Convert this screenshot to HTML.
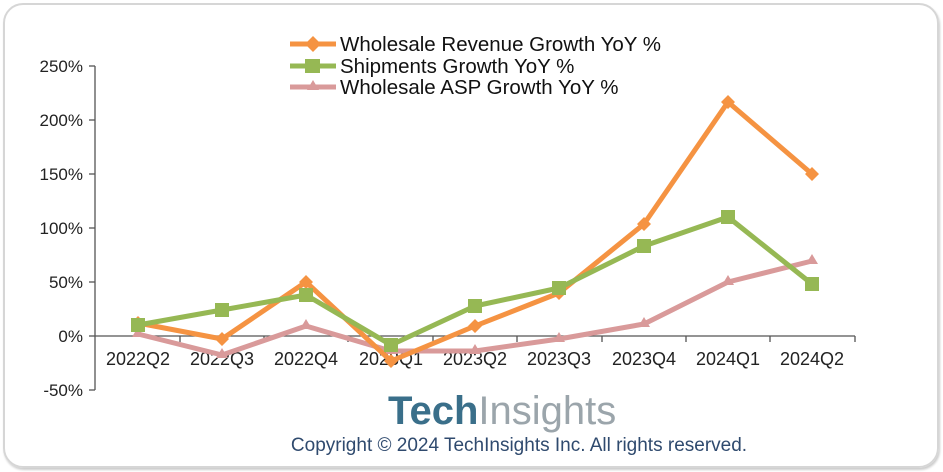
<!DOCTYPE html>
<html><head><style>
body{margin:0;background:#fff;}
.frame{position:absolute;left:3px;top:3px;width:932px;height:461px;border:2px solid #d6d6d6;border-radius:20px;box-shadow:1px 2px 2px #ccc;}
</style></head><body>
<div class="frame"></div>
<svg width="943" height="472" style="position:absolute;left:0;top:0" font-family="Liberation Sans, sans-serif">
<g stroke="#555" stroke-width="1.3" fill="none">
<line x1="95" y1="66" x2="95" y2="390"/>
<line x1="95" y1="336" x2="855" y2="336"/>
<line x1="89" y1="66" x2="95" y2="66"/><line x1="89" y1="120" x2="95" y2="120"/><line x1="89" y1="174" x2="95" y2="174"/><line x1="89" y1="228" x2="95" y2="228"/><line x1="89" y1="282" x2="95" y2="282"/><line x1="89" y1="336" x2="95" y2="336"/><line x1="89" y1="390" x2="95" y2="390"/>
<line x1="180" y1="336" x2="180" y2="342"/><line x1="264" y1="336" x2="264" y2="342"/><line x1="348" y1="336" x2="348" y2="342"/><line x1="433" y1="336" x2="433" y2="342"/><line x1="517" y1="336" x2="517" y2="342"/><line x1="602" y1="336" x2="602" y2="342"/><line x1="686" y1="336" x2="686" y2="342"/><line x1="770" y1="336" x2="770" y2="342"/><line x1="855" y1="336" x2="855" y2="342"/>
</g>
<g font-size="17" fill="#222" text-anchor="end">
<text x="83" y="72">250%</text><text x="83" y="126">200%</text><text x="83" y="180">150%</text><text x="83" y="234">100%</text><text x="83" y="288">50%</text><text x="83" y="342">0%</text><text x="83" y="396">-50%</text>
</g>
<g font-size="18" fill="#222" text-anchor="middle">
<text x="138" y="365">2022Q2</text><text x="222" y="365">2022Q3</text><text x="306" y="365">2022Q4</text><text x="391" y="365">2023Q1</text><text x="475" y="365">2023Q2</text><text x="559" y="365">2023Q3</text><text x="644" y="365">2023Q4</text><text x="728" y="365">2024Q1</text><text x="812" y="365">2024Q2</text>
</g>
<polyline fill="none" stroke="#d99a9a" stroke-width="5" stroke-linejoin="round" points="138,334 222,355 306,326 391,351 475,351 559,339 644,324 728,282 812,261"/>
<g fill="#d99a9a"><path d="M138,327 l6,10 h-12z M222,348 l6,10 h-12z M306,319 l6,10 h-12z M391,344 l6,10 h-12z M475,344 l6,10 h-12z M559,332 l6,10 h-12z M644,317 l6,10 h-12z M728,275 l6,10 h-12z M812,254 l6,10 h-12z"/></g>
<polyline fill="none" stroke="#f59342" stroke-width="5" stroke-linejoin="round" points="138,323 222,339 306,282 391,361 475,326 559,293 644,224 728,102 812,174"/>
<g fill="#f59342"><path d="M138,316 l7,7 -7,7 -7,-7z M222,332 l7,7 -7,7 -7,-7z M306,275 l7,7 -7,7 -7,-7z M391,354 l7,7 -7,7 -7,-7z M475,319 l7,7 -7,7 -7,-7z M559,286 l7,7 -7,7 -7,-7z M644,217 l7,7 -7,7 -7,-7z M728,95 l7,7 -7,7 -7,-7z M812,167 l7,7 -7,7 -7,-7z"/></g>
<polyline fill="none" stroke="#96b854" stroke-width="5" stroke-linejoin="round" points="138,325 222,310 306,295 391,345 475,306 559,288 644,246 728,217 812,284"/>
<g fill="#96b854"><rect x="131" y="318" width="14" height="14"/><rect x="215" y="303" width="14" height="14"/><rect x="299" y="288" width="14" height="14"/><rect x="384" y="338" width="14" height="14"/><rect x="468" y="299" width="14" height="14"/><rect x="552" y="281" width="14" height="14"/><rect x="637" y="239" width="14" height="14"/><rect x="721" y="210" width="14" height="14"/><rect x="805" y="277" width="14" height="14"/></g>
<g stroke-width="5">
<line x1="290" y1="44" x2="336" y2="44" stroke="#f59342"/><path d="M313,36 l8,8 -8,8 -8,-8z" fill="#f59342"/>
<line x1="290" y1="66" x2="336" y2="66" stroke="#96b854"/><rect x="305" y="59" width="15" height="14" fill="#96b854"/>
<line x1="290" y1="87" x2="336" y2="87" stroke="#d99a9a"/><path d="M313,80 l6,10 h-12z" fill="#d99a9a"/>
</g>
<g font-size="20.5" fill="#111">
<text x="340" y="51">Wholesale Revenue Growth YoY %</text>
<text x="340" y="73">Shipments Growth YoY %</text>
<text x="340" y="94">Wholesale ASP Growth YoY %</text>
</g>
<text x="388" y="424" font-size="40" font-weight="bold" fill="#3a6f8a">Tech<tspan fill="#9ba5ab" font-weight="normal">Insights</tspan></text>
<text x="519" y="451" font-size="19" fill="#2f4a6e" text-anchor="middle">Copyright © 2024 TechInsights Inc.  All rights reserved.</text>
</svg>
</body></html>
